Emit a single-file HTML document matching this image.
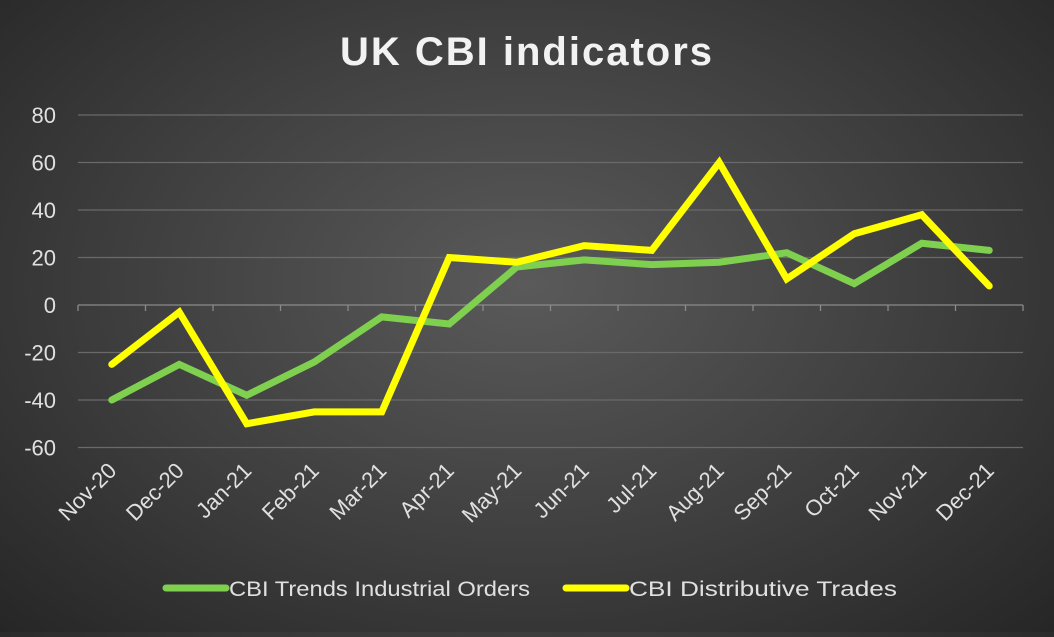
<!DOCTYPE html>
<html><head><meta charset="utf-8"><style>
html,body{margin:0;padding:0;}
body{width:1054px;height:632px;overflow:hidden;background:radial-gradient(ellipse at 50% 45%,#5a5a5a 0%,#3e3e3e 55%,#262626 100%);font-family:"Liberation Sans",sans-serif;}
</style></head><body>
<svg width="1054" height="632" xmlns="http://www.w3.org/2000/svg" id="c">
<text x="527" y="65" fill="#f2f2f2" font-size="40" font-weight="bold" text-anchor="middle" letter-spacing="2">UK CBI indicators</text>
<g id="grid"></g><g id="lines"></g><g id="xl"></g>
<g>
<line x1="166" y1="588" x2="226" y2="588" stroke="#7fd04f" stroke-width="7" stroke-linecap="round"/>
<text x="229" y="596" fill="#e0e0e0" font-size="21" textLength="301" lengthAdjust="spacingAndGlyphs">CBI Trends Industrial Orders</text>
<line x1="566" y1="588" x2="626" y2="588" stroke="#ffff00" stroke-width="7" stroke-linecap="round"/>
<text x="629" y="596" fill="#e0e0e0" font-size="21" textLength="268" lengthAdjust="spacingAndGlyphs">CBI Distributive Trades</text>
</g>
</svg>
<script>
const categories=["Nov-20","Dec-20","Jan-21","Feb-21","Mar-21","Apr-21","May-21","Jun-21","Jul-21","Aug-21","Sep-21","Oct-21","Nov-21","Dec-21"];
const industrial=[-40,-25,-38,-24,-5,-8,16,19,17,18,22,9,26,23];
const distributive=[-25,-3,-50,-45,-45,20,18,25,23,60,11,30,38,8];
const yTicks=[80,60,40,20,0,-20,-40,-60];
const NS="http://www.w3.org/2000/svg";
const x0=78,band=67.5;
const xS=i=>x0+band*(i+0.5);
const yS=v=>305-v*2.375;
function mk(t,a,p){const e=document.createElementNS(NS,t);for(const k in a)e.setAttribute(k,a[k]);p.appendChild(e);return e;}
const g=document.getElementById('grid');
yTicks.forEach(v=>{
 const l=mk('line',{x1:x0,x2:x0+band*categories.length,y1:yS(v),y2:yS(v),stroke:v===0?'#8a8a8a':'#6a6a6a','stroke-width':1.3},g);
 
 
 const t=mk('text',{x:56,y:yS(v)+8,fill:'#e0e0e0','font-size':22,'text-anchor':'end'},g);
 t.textContent=v;
 
 
});
for(let i=0;i<=categories.length;i++){
 const tk=mk('line',{x1:x0+band*i,x2:x0+band*i,y1:yS(0),y2:yS(0)+6,stroke:'#8a8a8a','stroke-width':1.3},g);
 
 
}
const ln=document.getElementById('lines');
[[industrial,'#7fd04f','industrial-orders-line'],[distributive,'#ffff00','distributive-trades-line']].forEach(([d,c,n])=>{
 const p=mk('polyline',{points:d.map((v,i)=>xS(i)+','+yS(v)).join(' '),fill:'none',stroke:c,'stroke-width':7,'stroke-linejoin':'miter','stroke-linecap':'round'},ln);
 
 
});
const xl=document.getElementById('xl');
categories.forEach((c,i)=>{
 const x=xS(i)+6,y=472;
 const t=mk('text',{x:x,y:y,fill:'#e0e0e0','font-size':22,'text-anchor':'end',transform:`rotate(-45 ${x} ${y})`},xl);
 t.textContent=c;
 
 
});
</script>
</body></html>
